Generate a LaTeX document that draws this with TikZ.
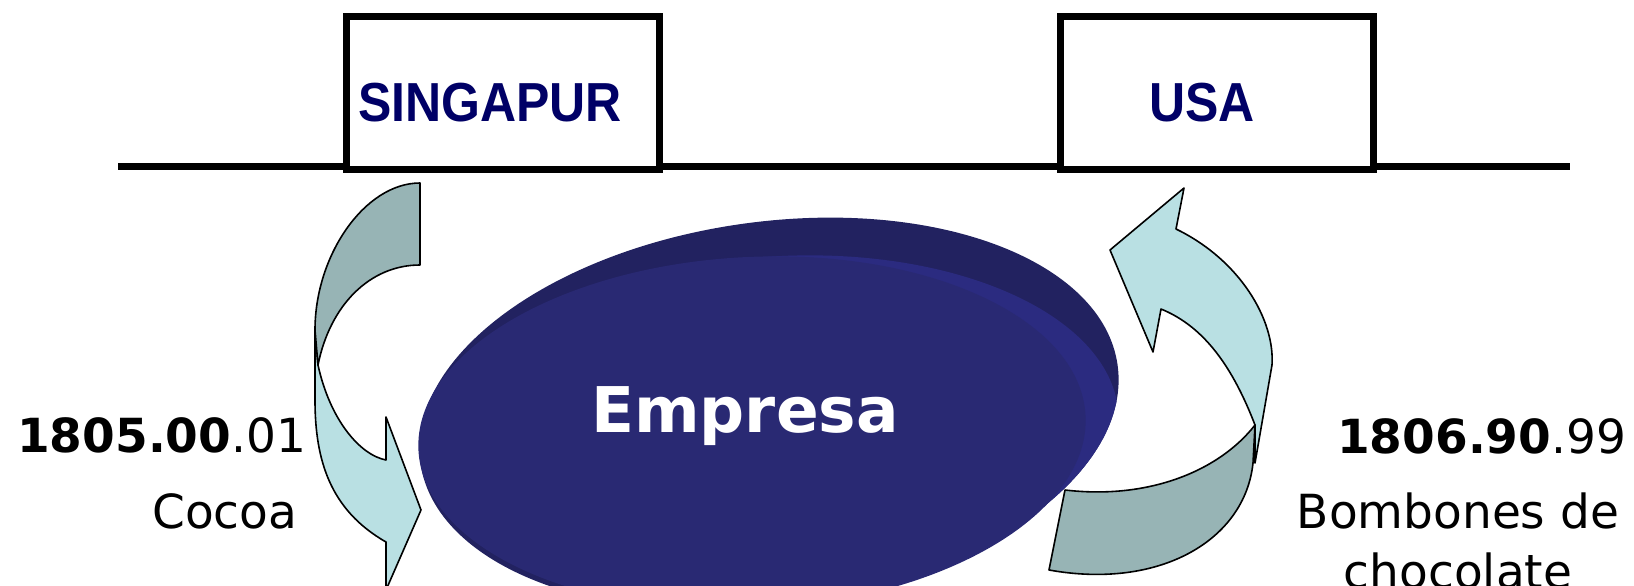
\documentclass[tikz,border=0pt]{standalone}
\usepackage{fontspec}
\newfontfamily\dv{DejaVu Sans}
\newfontfamily\lib{Liberation Sans}
\definecolor{navytxt}{RGB}{0,0,102}
\definecolor{facecol}{RGB}{41,41,115}
\definecolor{bandcol}{RGB}{34,34,96}
\definecolor{rimcol}{RGB}{43,43,128}
\definecolor{lightarr}{RGB}{185,224,227}
\definecolor{darkarr}{RGB}{151,180,181}
\tikzset{
  countrybox/.style={draw=black, line width=7pt, fill=white, minimum width=313pt, minimum height=152pt, inner sep=0pt},
  countrytext/.style={font=\lib\bfseries\fontsize{50}{60}\selectfont, text=navytxt, inner sep=0pt},
  codetext/.style={font=\dv\fontsize{47}{56}\selectfont, inner sep=0pt, anchor=base west},
  ribbonlight/.style={fill=lightarr, draw=black, line width=1.6pt, line join=round},
  ribbondark/.style={fill=darkarr, draw=black, line width=1.6pt, line join=round}
}
\begin{document}
\begin{tikzpicture}[x=1pt,y=-1pt]
\useasboundingbox (0,0) rectangle (1634,586);
\clip (0,0) rectangle (1634,586);
% timeline
\coordinate (lineL) at (118,166);
\coordinate (lineR) at (1570,166);
\draw[line width=7pt] (lineL) -- (lineR);
% country boxes
\node[countrybox] (sgbox) at (503,93) {};
\node[countrybox] (usbox) at (1216.5,93) {};
\node[countrytext] (sg) at (490,103) {\scalebox{1}[1.1]{SINGAPUR}};
\node[countrytext] (us) at (1202,103) {\scalebox{1}[1.1]{USA}};
% Empresa disc
\fill[bandcol, rotate around={8:(769,414)}] (769,414) ellipse [x radius=352pt, y radius=192pt];
\begin{scope}
  \clip[rotate around={8:(769,414)}] (769,414) ellipse [x radius=352pt, y radius=192pt];
  \fill[rimcol, rotate around={3:(786,432)}] (786,432) ellipse [x radius=333pt, y radius=176pt];
\end{scope}
\fill[facecol, rotate around={3:(752,433)}] (752,433) ellipse [x radius=334pt, y radius=176pt];
\node[font=\dv\bfseries\fontsize{63}{70}\selectfont, text=white, inner sep=0pt, anchor=base] (emp) at (745,432) {Empresa};
% left ribbon arrow (Singapur -> Empresa)
\draw[ribbonlight] (318,365) .. controls (330,420) and (360,455) .. (386,460)
  -- (386,417) -- (421,510) -- (386,590) -- (386,542)
  .. controls (330,510) and (315,460) .. (315,400) -- (315,330) -- cycle;
\draw[ribbondark] (420,183) .. controls (365,183) and (315,255) .. (315,330)
  -- (318,365) .. controls (330,305) and (370,265) .. (420,265) -- cycle;
% right ribbon arrow (Empresa -> USA)
\draw[ribbonlight] (1184,188) -- (1176,229) .. controls (1240,260) and (1275,320) .. (1272,365)
  -- (1255,463) -- (1255,425) .. controls (1230,360) and (1200,325) .. (1161,309)
  -- (1153,352) -- (1110,250) -- cycle;
\draw[ribbondark] (1065,490) .. controls (1150,500) and (1220,470) .. (1255,425)
  -- (1253,463) .. controls (1245,540) and (1160,590) .. (1049,570) -- cycle;
% labels
\node[codetext] (codeL) at (17,452) {\textbf{1805.00}.01};
\node[codetext] (cocoa) at (152,528) {Cocoa};
\node[codetext] (codeR) at (1337,453) {\textbf{1806.90}.99};
\node[codetext, anchor=base] (bomb) at (1458,528) {Bombones de};
\node[codetext, anchor=base] (choc) at (1458,588) {chocolate};
\end{tikzpicture}
\end{document}
